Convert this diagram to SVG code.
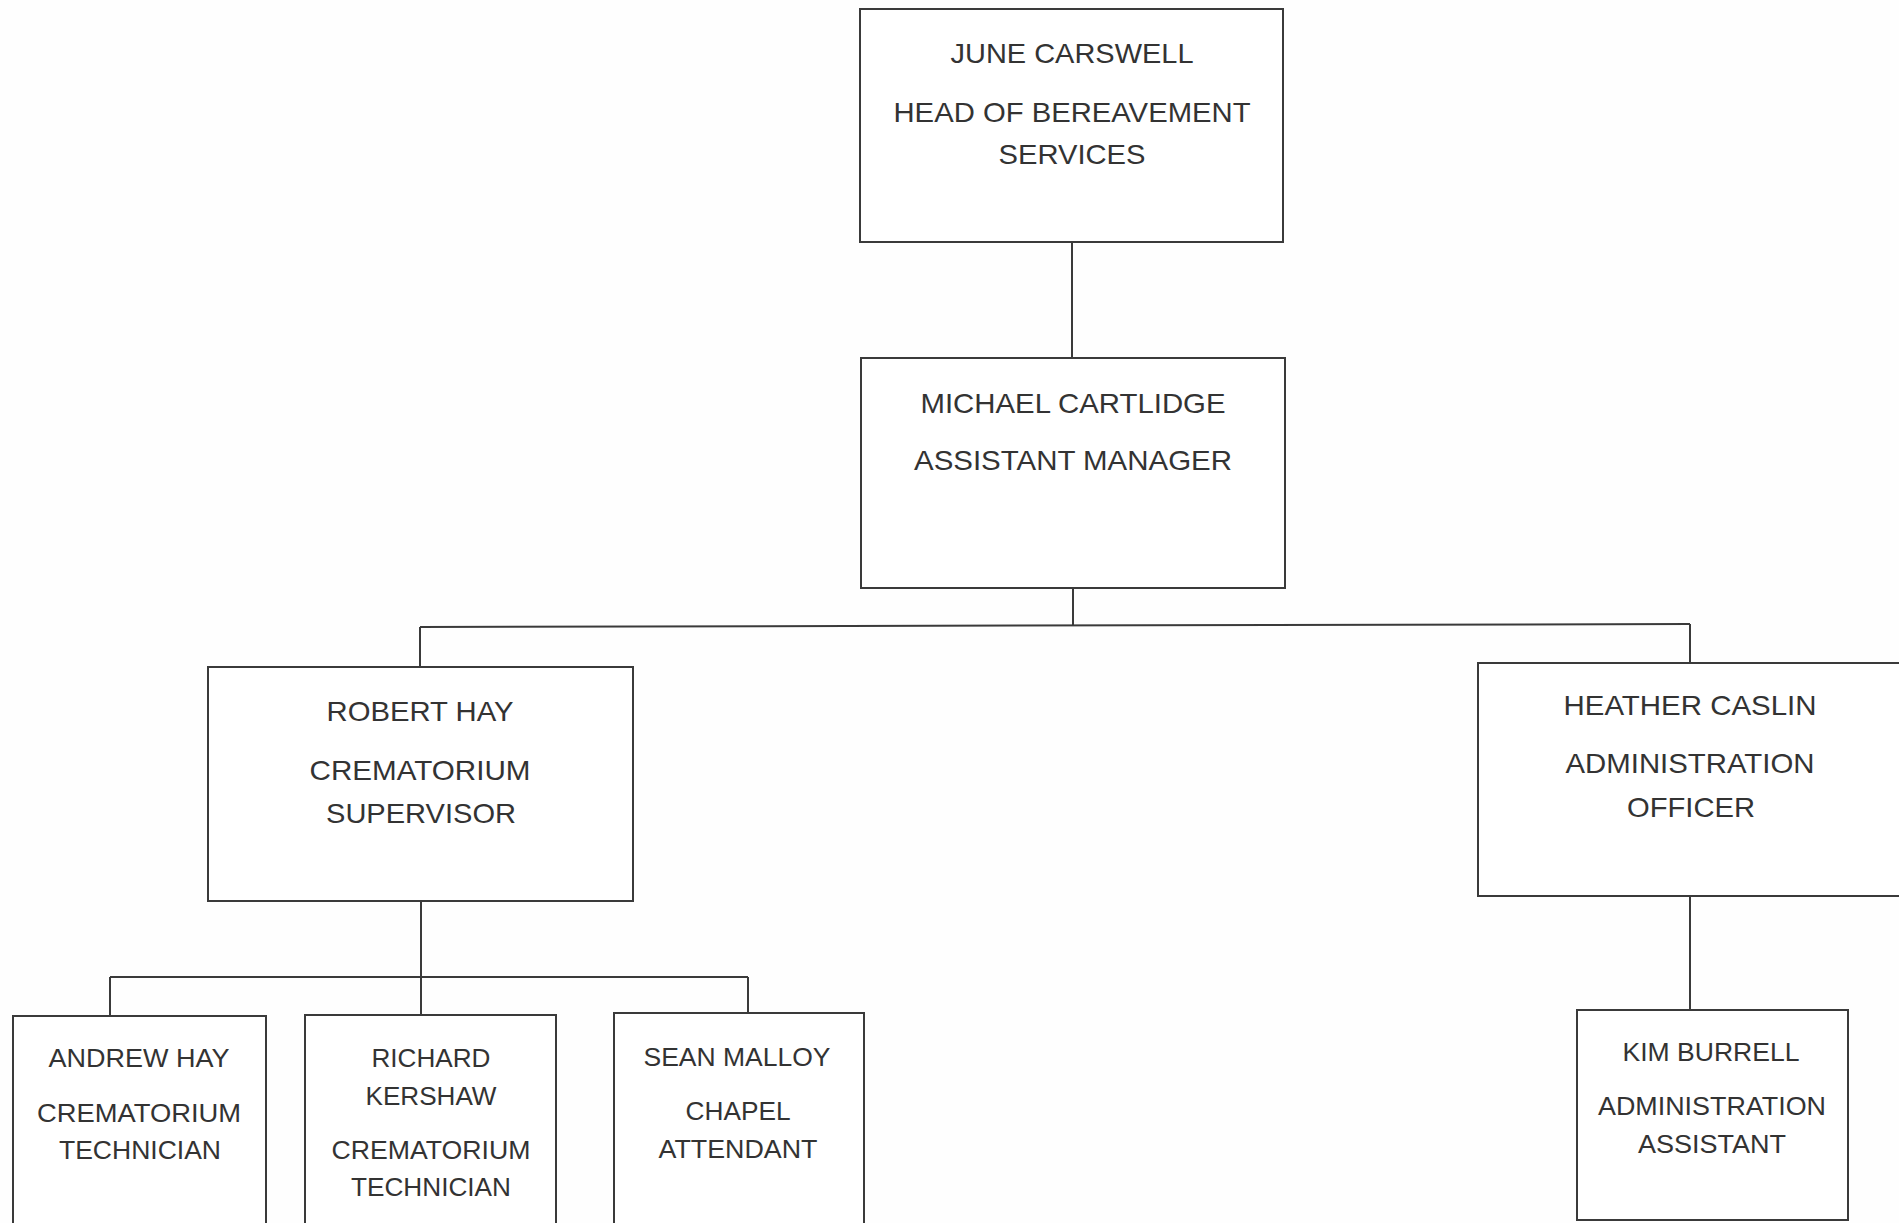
<svg xmlns="http://www.w3.org/2000/svg" width="1899" height="1223" viewBox="0 0 1899 1223">
<style>
.box{fill:#ffffff;stroke:#3a3a3a;stroke-width:2}
.ln{stroke:#3a3a3a;stroke-width:2;fill:none}
text{font-family:"Liberation Sans",Arial,sans-serif;font-size:27.5px;fill:#333333;text-anchor:middle}
.s{font-size:25px}
</style>
<rect width="1899" height="1223" fill="#fefefe"/>
<g id="connectors">
<line class="ln" x1="1072" y1="242" x2="1072" y2="358"/>
<line class="ln" x1="1073" y1="588" x2="1073" y2="626"/>
<line class="ln" x1="420" y1="627" x2="1690" y2="624"/>
<line class="ln" x1="420" y1="627" x2="420" y2="667"/>
<line class="ln" x1="1690" y1="624" x2="1690" y2="663"/>
<line class="ln" x1="1690" y1="896" x2="1690" y2="1010"/>
<line class="ln" x1="421" y1="901" x2="421" y2="1015"/>
<line class="ln" x1="110" y1="977" x2="748" y2="977"/>
<line class="ln" x1="110" y1="977" x2="110" y2="1016"/>
<line class="ln" x1="748" y1="977" x2="748" y2="1013"/>
</g>
<g id="june">
<rect class="box" x="860" y="9" width="423" height="233"/>
<text x="1072" y="63" textLength="243" lengthAdjust="spacingAndGlyphs">JUNE CARSWELL</text>
<text x="1072" y="122" textLength="357" lengthAdjust="spacingAndGlyphs">HEAD OF BEREAVEMENT</text>
<text x="1072" y="164" textLength="147" lengthAdjust="spacingAndGlyphs">SERVICES</text>
</g>
<g id="michael">
<rect class="box" x="861" y="358" width="424" height="230"/>
<text x="1073" y="413" textLength="305" lengthAdjust="spacingAndGlyphs">MICHAEL CARTLIDGE</text>
<text x="1073" y="470" textLength="318" lengthAdjust="spacingAndGlyphs">ASSISTANT MANAGER</text>
</g>
<g id="robert">
<rect class="box" x="208" y="667" width="425" height="234"/>
<text x="420" y="721" textLength="187" lengthAdjust="spacingAndGlyphs">ROBERT HAY</text>
<text x="420" y="780" textLength="221" lengthAdjust="spacingAndGlyphs">CREMATORIUM</text>
<text x="421" y="823" textLength="190" lengthAdjust="spacingAndGlyphs">SUPERVISOR</text>
</g>
<g id="heather">
<rect class="box" x="1478" y="663" width="430" height="233"/>
<text x="1690" y="715" textLength="253" lengthAdjust="spacingAndGlyphs">HEATHER CASLIN</text>
<text x="1690" y="773" textLength="249" lengthAdjust="spacingAndGlyphs">ADMINISTRATION</text>
<text x="1691" y="817" textLength="128" lengthAdjust="spacingAndGlyphs">OFFICER</text>
</g>
<g id="andrew">
<rect class="box" x="13" y="1016" width="253" height="220"/>
<text class="s" x="139" y="1067" textLength="181" lengthAdjust="spacingAndGlyphs">ANDREW HAY</text>
<text class="s" x="139" y="1122" textLength="204" lengthAdjust="spacingAndGlyphs">CREMATORIUM</text>
<text class="s" x="140" y="1159" textLength="162" lengthAdjust="spacingAndGlyphs">TECHNICIAN</text>
</g>
<g id="richard">
<rect class="box" x="305" y="1015" width="251" height="220"/>
<text class="s" x="431" y="1067" textLength="119" lengthAdjust="spacingAndGlyphs">RICHARD</text>
<text class="s" x="431" y="1105" textLength="131" lengthAdjust="spacingAndGlyphs">KERSHAW</text>
<text class="s" x="431" y="1159" textLength="199" lengthAdjust="spacingAndGlyphs">CREMATORIUM</text>
<text class="s" x="431" y="1196" textLength="160" lengthAdjust="spacingAndGlyphs">TECHNICIAN</text>
</g>
<g id="sean">
<rect class="box" x="614" y="1013" width="250" height="220"/>
<text class="s" x="737" y="1066" textLength="187" lengthAdjust="spacingAndGlyphs">SEAN MALLOY</text>
<text class="s" x="738" y="1120" textLength="105" lengthAdjust="spacingAndGlyphs">CHAPEL</text>
<text class="s" x="738" y="1158" textLength="159" lengthAdjust="spacingAndGlyphs">ATTENDANT</text>
</g>
<g id="kim">
<rect class="box" x="1577" y="1010" width="271" height="210"/>
<text class="s" x="1711" y="1061" textLength="177" lengthAdjust="spacingAndGlyphs">KIM BURRELL</text>
<text class="s" x="1712" y="1115" textLength="228" lengthAdjust="spacingAndGlyphs">ADMINISTRATION</text>
<text class="s" x="1712" y="1153" textLength="148" lengthAdjust="spacingAndGlyphs">ASSISTANT</text>
</g>
</svg>
